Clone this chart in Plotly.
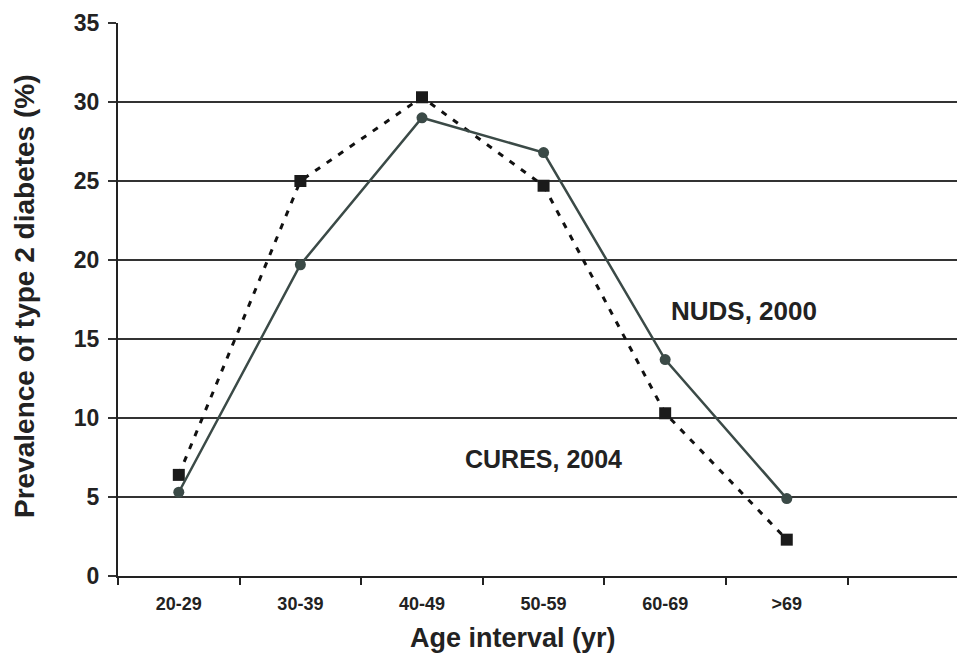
import plotly.graph_objects as go

categories = ["20-29", "30-39", "40-49", "50-59", "60-69", ">69"]
nuds_2000 = [5.3, 19.7, 29.0, 26.8, 13.7, 4.9]
cures_2004 = [6.4, 25.0, 30.3, 24.7, 10.3, 2.3]
y_ticks = [0, 5, 10, 15, 20, 25, 30, 35]

FONT = "Liberation Sans, Arial, sans-serif"
all_cats = categories + [" "]

W, H = 957, 654
ML, MR, MT, MB = 118, 0, 23, 78
w_plot = W - ML - MR
h_plot = H - MT - MB

fig = go.Figure()
# placeholder for empty trailing category slot
fig.add_trace(go.Scatter(x=[" "], y=[None], mode="markers", showlegend=False, hoverinfo="skip"))
fig.add_trace(go.Scatter(
    x=categories, y=cures_2004, mode="lines+markers", name="CURES, 2004",
    line=dict(color="#111111", width=3, dash="6px,8px"),
    marker=dict(symbol="square", size=12, color="#1a1a1a"),
    showlegend=False))
fig.add_trace(go.Scatter(
    x=categories, y=nuds_2000, mode="lines+markers", name="NUDS, 2000",
    line=dict(color="#3b4a47", width=2.5),
    marker=dict(symbol="circle", size=11, color="#3b4a47"),
    showlegend=False))

fig.add_annotation(x=4.65, y=16.75, xref="x", yref="y", text="NUDS, 2000", showarrow=False,
                   font=dict(family=FONT, size=26, color="#222222", weight="bold"))
fig.add_annotation(x=3.0, y=7.4, xref="x", yref="y", text="CURES, 2004", showarrow=False,
                   font=dict(family=FONT, size=25, color="#222222", weight="bold"))
fig.add_annotation(x=(513 - ML) / w_plot, y=-(638 - (H - MB)) / h_plot, xref="paper", yref="paper",
                   text="Age interval (yr)", showarrow=False, yanchor="middle",
                   font=dict(family=FONT, size=27, color="#222222", weight="bold"))
fig.add_annotation(x=(24 - ML) / w_plot, y=1 - (296 - MT) / h_plot, xref="paper", yref="paper",
                   text="Prevalence of type 2 diabetes (%)", showarrow=False, textangle=-90,
                   xanchor="center", yanchor="middle",
                   font=dict(family=FONT, size=28, color="#222222", weight="bold"))

fig.update_layout(
    width=W, height=H,
    margin=dict(l=ML, r=MR, t=MT, b=MB, autoexpand=False),
    paper_bgcolor="white", plot_bgcolor="white",
    font=dict(family=FONT, color="#222222"),
    xaxis=dict(
        type="category", categoryorder="array", categoryarray=all_cats,
        range=[-0.5, 6.4], tickson="boundaries", ticks="outside", ticklen=7,
        tickwidth=1.5, tickcolor="#222222", showgrid=False,
        showline=True, linecolor="#222222", linewidth=2,
        tickfont=dict(family=FONT, size=18, color="#222222", weight="bold"),
        ticklabelstandoff=10, zeroline=False),
    yaxis=dict(
        range=[0, 35], tickvals=y_ticks, ticks="outside", ticklen=8, tickwidth=2,
        tickcolor="#333333", showgrid=True, gridcolor="#333333", gridwidth=2,
        showline=True, linecolor="#222222", linewidth=2, zeroline=False,
        tickfont=dict(family=FONT, size=23, color="#222222", weight="bold"),
        ticklabelstandoff=4),
)

fig.write_html("out.html", config={"displayModeBar": False},
               post_script="document.body.style.margin='0';document.body.style.overflow='hidden';")
